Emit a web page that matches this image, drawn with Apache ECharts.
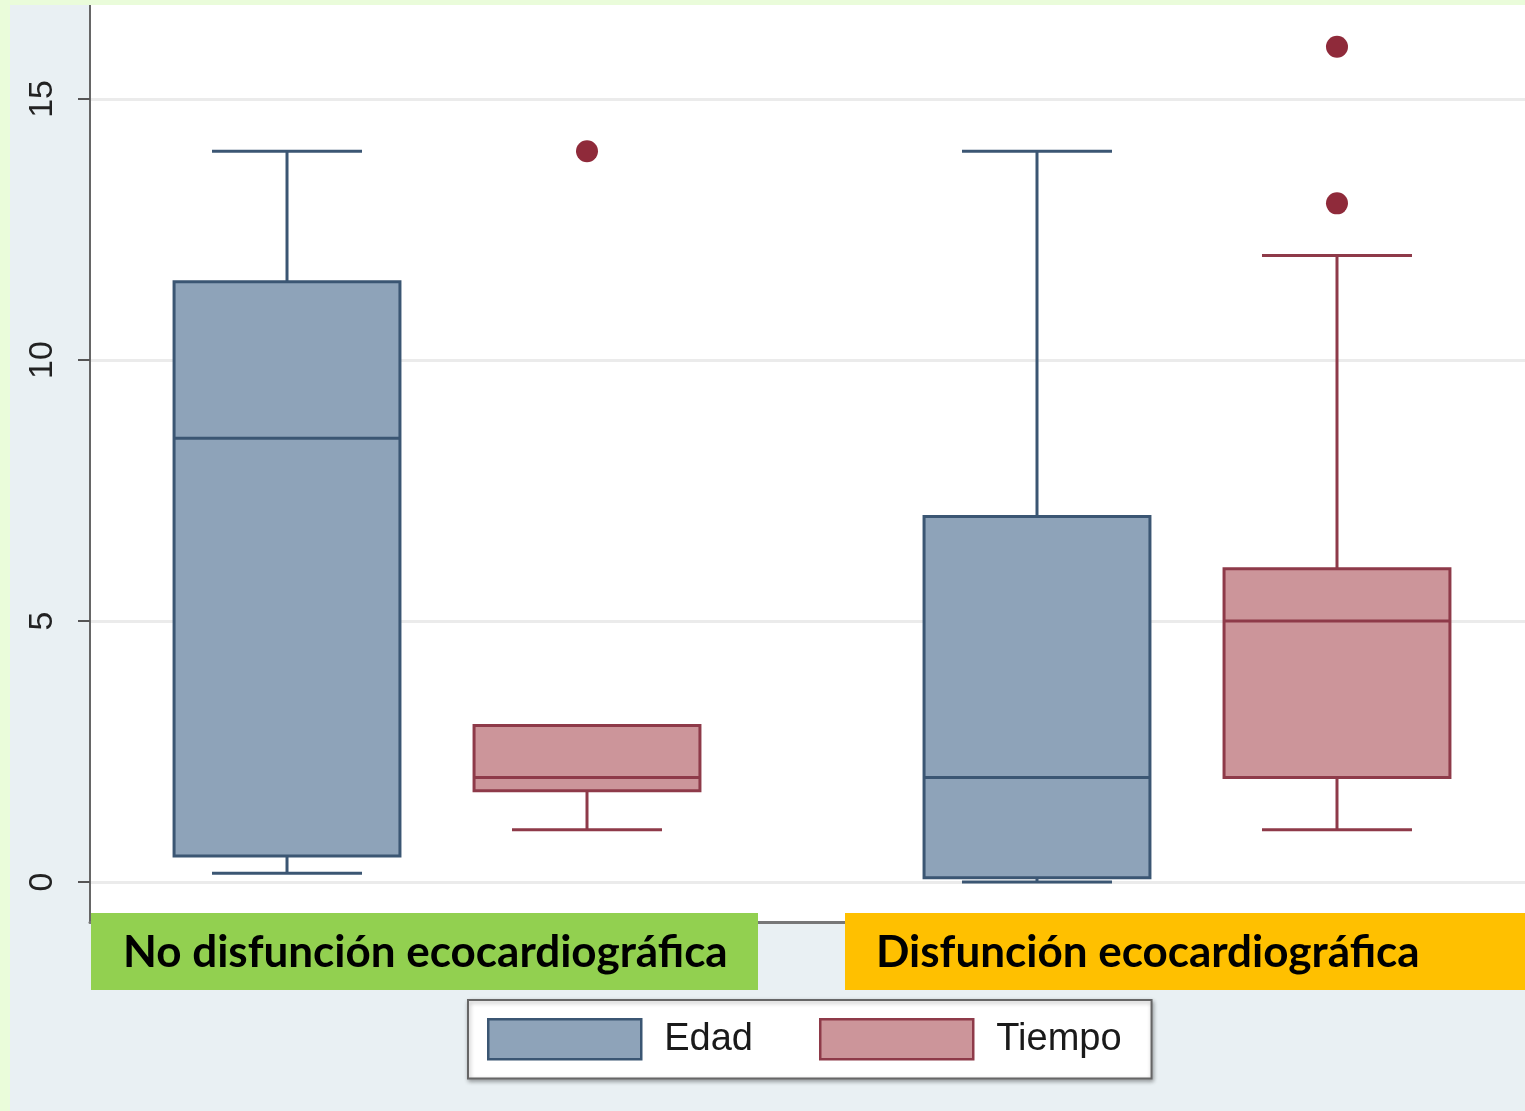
<!DOCTYPE html>
<html>
<head>
<meta charset="utf-8">
<script src="https://cdn.jsdelivr.net/npm/echarts@6/dist/echarts.min.js"></script>
<style>
  html, body { margin: 0; padding: 0; background: #eafcda; }
  #page { position: relative; width: 1525px; height: 1111px; background: #eafcda; }
  #chart { position: absolute; left: 10px; top: 5px; width: 1515px; height: 1106px; }
</style>
</head>
<body>
<div id="page"><div id="chart"></div></div>
<script>
// Groups and series
const groups = ['No disfunción ecocardiográfica', 'Disfunción ecocardiográfica'];
const seriesNames = ['Edad', 'Tiempo'];

// Box statistics per group: [min, Q1, median, Q3, max]
const edadStats = [
  [0.17, 0.5, 8.5, 11.5, 14],
  [0, 0.08, 2, 7, 14]
];
const tiempoStats = [
  [1, 1.75, 2, 3, 3],
  [1, 2, 5, 6, 12]
];

// Outside values per group
const edadOutliers = [[], []];
const tiempoOutliers = [[14], [13, 16]];

// Y axis tick values
const yTicks = [0, 5, 10, 15];

// Layout of the slots on the horizontal value axis
const GROUP_STEP = 2.5;
const GROUP_FIRST = 1.5;
const SERIES_OFFSET = [-0.5, 0.5];
const BOX_W = 0.753;
const CAP_W = 0.5;

const colors = {
  Edad: { fill: '#8ea3b9', stroke: '#3b5673' },
  Tiempo: { fill: '#cc959a', stroke: '#8e3a49' }
};

function slot(g, s) { return GROUP_FIRST + g * GROUP_STEP + SERIES_OFFSET[s]; }

function boxData(stats, s) {
  return stats.map((st, g) => [slot(g, s)].concat(st));
}
function outlierData(list, s) {
  const out = [];
  list.forEach((vals, g) => vals.forEach(v => out.push([slot(g, s), v])));
  return out;
}

function makeRender(name) {
  const c = colors[name];
  return function (params, api) {
    const x = api.value(0);
    const pMin = api.coord([x, api.value(1)]);
    const pQ1 = api.coord([x, api.value(2)]);
    const pMed = api.coord([x, api.value(3)]);
    const pQ3 = api.coord([x, api.value(4)]);
    const pMax = api.coord([x, api.value(5)]);
    const bw = api.size([BOX_W, 0])[0];
    const cw = api.size([CAP_W, 0])[0];
    const cx = pQ1[0];
    const lineStyle = { stroke: c.stroke, lineWidth: 3 };
    const children = [];
    if (pMax[1] < pQ3[1] - 0.5) {
      children.push({ type: 'line', shape: { x1: cx, y1: pQ3[1], x2: cx, y2: pMax[1] }, style: lineStyle });
      children.push({ type: 'line', shape: { x1: cx - cw / 2, y1: pMax[1], x2: cx + cw / 2, y2: pMax[1] }, style: lineStyle });
    }
    if (pMin[1] > pQ1[1] + 0.5) {
      children.push({ type: 'line', shape: { x1: cx, y1: pQ1[1], x2: cx, y2: pMin[1] }, style: lineStyle });
    }
    children.push({ type: 'line', shape: { x1: cx - cw / 2, y1: pMin[1], x2: cx + cw / 2, y2: pMin[1] }, style: lineStyle });
    children.push({
      type: 'rect',
      shape: { x: cx - bw / 2, y: pQ3[1], width: bw, height: pQ1[1] - pQ3[1] },
      style: { fill: c.fill, stroke: c.stroke, lineWidth: 3 }
    });
    children.push({ type: 'line', shape: { x1: cx - bw / 2, y1: pMed[1], x2: cx + bw / 2, y2: pMed[1] }, style: lineStyle });
    return { type: 'group', children: children };
  };
}

const chart = echarts.init(document.getElementById('chart'), null, { renderer: 'canvas' });

const labelFont = 'bold 44px Lato, "Noto Sans", sans-serif';

chart.setOption({
  backgroundColor: '#e9f0f3',
  animation: false,
  grid: {
    left: 80, right: 0, top: 0, bottom: 189,
    show: true, backgroundColor: '#ffffff', borderWidth: 0
  },
  xAxis: {
    type: 'value',
    min: 0.3433, max: 5.1267,
    z: 0,
    axisLine: { show: true, onZero: false, lineStyle: { color: '#777777', width: 3 } },
    axisTick: { show: false },
    axisLabel: { show: false },
    splitLine: { show: false }
  },
  yAxis: {
    type: 'value',
    min: -0.766, max: 16.8,
    axisLine: { show: true, lineStyle: { color: '#666666', width: 2 } },
    axisTick: { show: true, length: 12, customValues: yTicks, lineStyle: { color: '#555555', width: 2 } },
    axisLabel: {
      customValues: yTicks,
      rotate: 90, margin: 30,
      fontSize: 34, color: '#222222', fontFamily: 'Liberation Sans, Arial, sans-serif'
    },
    splitLine: { show: true, lineStyle: { color: '#ebebeb', width: 3 } }
  },
  legend: {
    left: 458, top: 995,
    data: [
      { name: 'Edad', icon: 'rect', itemStyle: { color: colors.Edad.fill, borderColor: colors.Edad.stroke, borderWidth: 2.5 } },
      { name: 'Tiempo', icon: 'rect', itemStyle: { color: colors.Tiempo.fill, borderColor: colors.Tiempo.stroke, borderWidth: 2.5 } }
    ],
    itemWidth: 153, itemHeight: 40, itemGap: 66,
    padding: [18, 30, 18, 19],
    backgroundColor: '#ffffff',
    borderColor: '#666666', borderWidth: 2,
    shadowColor: 'rgba(0,0,0,0.3)', shadowBlur: 4, shadowOffsetX: 1, shadowOffsetY: 2,
    textStyle: { fontSize: 38, color: '#1a1a1a', fontFamily: 'Liberation Sans, Arial, sans-serif', padding: [0, 0, 0, 18] },
    selectedMode: false
  },
  graphic: [
    { type: 'rect', z: 100, zlevel: 1, shape: { x: 81, y: 908, width: 667, height: 77 }, style: { fill: '#92d050' } },
    { type: 'text', z: 101, zlevel: 1, x: 113, y: 948, style: { text: groups[0], font: labelFont, fill: '#000000', verticalAlign: 'middle' } },
    { type: 'rect', z: 100, zlevel: 1, shape: { x: 835, y: 908, width: 680, height: 77 }, style: { fill: '#ffc000' } },
    { type: 'text', z: 101, zlevel: 1, x: 866, y: 948, style: { text: groups[1], font: labelFont, fill: '#000000', verticalAlign: 'middle' } }
  ],
  series: [
    {
      name: 'Edad', type: 'custom',
      itemStyle: { color: colors.Edad.fill },
      encode: { x: 0, y: [1, 2, 3, 4, 5] },
      renderItem: makeRender('Edad'),
      data: boxData(edadStats, 0), z: 3
    },
    {
      name: 'Tiempo', type: 'custom',
      itemStyle: { color: colors.Tiempo.fill },
      encode: { x: 0, y: [1, 2, 3, 4, 5] },
      renderItem: makeRender('Tiempo'),
      data: boxData(tiempoStats, 1), z: 3
    },
    {
      name: 'Edad', type: 'scatter', symbolSize: 22,
      itemStyle: { color: '#8f2a3a', opacity: 1 },
      data: outlierData(edadOutliers, 0), z: 4
    },
    {
      name: 'Tiempo', type: 'scatter', symbolSize: 22,
      itemStyle: { color: '#8f2a3a', opacity: 1 },
      data: outlierData(tiempoOutliers, 1), z: 4
    }
  ]
});
</script>
</body>
</html>
